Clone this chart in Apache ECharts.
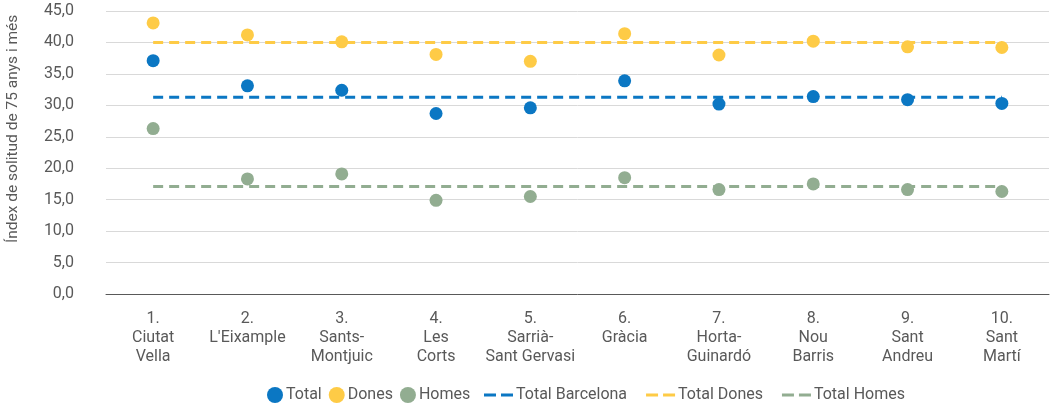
<!DOCTYPE html>
<html>
<head>
<meta charset="utf-8">
<script src="https://cdn.jsdelivr.net/npm/echarts@6/dist/echarts.min.js"></script>
<style>
  html, body { margin: 0; padding: 0; background: #fff; }
  #chart { width: 1053px; height: 409px; }
</style>
</head>
<body>
<div id="chart"></div>
<script>
const districts = [
  '1.\nCiutat\nVella', '2.\nL\'Eixample', '3.\nSants-\nMontjuic', '4.\nLes\nCorts',
  '5.\nSarrià-\nSant Gervasi', '6.\nGràcia', '7.\nHorta-\nGuinardó', '8.\nNou\nBarris',
  '9.\nSant\nAndreu', '10.\nSant\nMartí'
];
const total = [37.1, 33.1, 32.4, 28.7, 29.6, 33.9, 30.2, 31.4, 30.9, 30.3];
const dones = [43.1, 41.2, 40.1, 38.1, 37.0, 41.4, 38.0, 40.2, 39.3, 39.2];
const homes = [26.3, 18.3, 19.1, 14.9, 15.5, 18.5, 16.6, 17.5, 16.6, 16.3];
const totalBarcelona = 31.3;
const totalDones = 40.0;
const totalHomes = 17.1;

const COLORS = { total: '#0b77c3', dones: '#fecb46', homes: '#92ad91' };
const FONT = 'Roboto';
const TEXT = '#595959';
const DASH_ICON = 'path://M0,0h12v3h-12zM17,0h12v3h-12z';

const chart = echarts.init(document.getElementById('chart'));

function refLine(name, value, color) {
  return {
    name: name,
    type: 'line',
    data: districts.map(() => value),
    symbol: 'none',
    lineStyle: { color: color, width: 3, type: [10, 6] },
    itemStyle: { color: color },
    z: 1
  };
}

function dots(name, values, color) {
  return {
    name: name,
    type: 'scatter',
    data: values,
    symbolSize: 13,
    itemStyle: { color: color, opacity: 1 },
    z: 3
  };
}

chart.setOption({
  animation: false,
  textStyle: { fontFamily: FONT },
  grid: { left: 106, right: 4, top: 11, bottom: 115 },
  graphic: [{
    type: 'text',
    x: 5,
    y: 243,
    rotation: Math.PI / 2,
    style: {
      text: 'Índex de solitud de 75 anys i més',
      font: '15.5px Roboto',
      fill: TEXT,
      textVerticalAlign: 'top'
    }
  }],
  legend: [{
    left: 267,
    top: 387,
    padding: 0,
    itemGap: 7,
    itemWidth: 16,
    itemHeight: 16,
    textStyle: { fontFamily: FONT, fontSize: 16, color: TEXT, padding: [0, 0, 0, -2] },
    data: [
      { name: 'Total', icon: 'circle' },
      { name: 'Dones', icon: 'circle' },
      { name: 'Homes', icon: 'circle' }
    ]
  }, {
    left: 484,
    top: 387,
    padding: 0,
    itemGap: 19,
    itemWidth: 29,
    itemHeight: 3,
    textStyle: { fontFamily: FONT, fontSize: 16, color: TEXT, padding: [0, 0, 0, -2] },
    data: [
      { name: 'Total Barcelona', icon: DASH_ICON },
      { name: 'Total Dones', icon: DASH_ICON },
      { name: 'Total Homes', icon: DASH_ICON }
    ]
  }],
  xAxis: {
    type: 'category',
    data: districts,
    boundaryGap: true,
    axisLine: { lineStyle: { color: '#595959', width: 1 } },
    axisTick: { interval: 1, length: 4, lineStyle: { color: '#d9d9d9' } },
    axisLabel: {
      interval: 0,
      margin: 15,
      fontFamily: FONT,
      fontSize: 16,
      color: TEXT,
      lineHeight: 19
    },
    splitLine: { show: false }
  },
  yAxis: {
    type: 'value',
    min: 0,
    max: 45,
    interval: 5,
    axisLine: { show: false },
    axisTick: { show: false },
    axisLabel: {
      fontFamily: FONT,
      fontSize: 16,
      color: TEXT,
      margin: 32,
      formatter: v => v.toFixed(1).replace('.', ',')
    },
    splitLine: { lineStyle: { color: '#d9d9d9', width: 1 } }
  },
  series: [
    dots('Total', total, COLORS.total),
    dots('Dones', dones, COLORS.dones),
    dots('Homes', homes, COLORS.homes),
    refLine('Total Barcelona', totalBarcelona, COLORS.total),
    refLine('Total Dones', totalDones, COLORS.dones),
    refLine('Total Homes', totalHomes, COLORS.homes)
  ]
});
</script>
</body>
</html>
